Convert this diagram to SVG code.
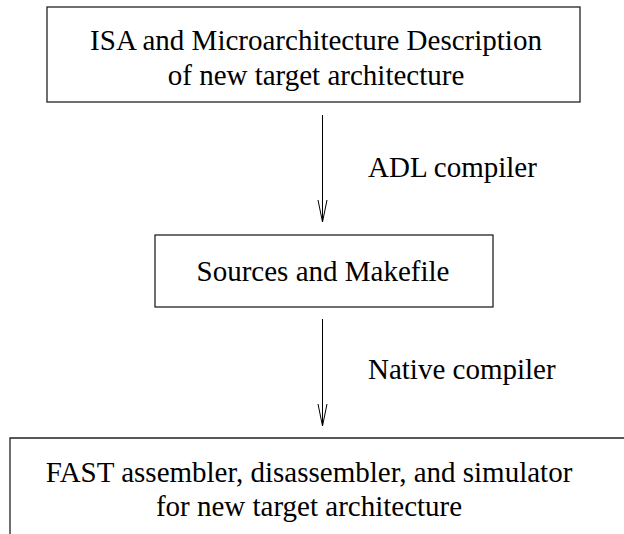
<svg xmlns="http://www.w3.org/2000/svg" width="624" height="534" viewBox="0 0 624 534">
<defs>
<style>
.box{fill:none;stroke:#222;stroke-width:1.3}
.t{font-family:"Liberation Serif","Times New Roman",serif;font-size:29px;fill:#000}
.c{text-anchor:middle}
.ln{stroke:#000;stroke-width:1;fill:none}
</style>
</defs>
<g id="node-isa">
<rect class="box" x="47" y="7" width="533" height="95"/>
<text class="t c" x="316" y="50">ISA and Microarchitecture Description</text>
<text class="t c" x="316" y="85">of new target architecture</text>
</g>
<g id="node-sources">
<rect class="box" x="155" y="235" width="338" height="72"/>
<text class="t c" x="323" y="281">Sources and Makefile</text>
</g>
<g id="node-fast">
<path class="box" d="M10,534 L10,438 L624,438"/>
<text class="t c" x="309" y="482">FAST assembler, disassembler, and simulator</text>
<text class="t c" x="309" y="516">for new target architecture</text>
</g>
<g id="connectors">
<line class="ln" x1="322.5" y1="115" x2="322.5" y2="222"/>
<path class="ln" d="M318,200 L322.5,222 L327,200"/>
<text class="t" x="368" y="177">ADL compiler</text>
<line class="ln" x1="322.5" y1="319" x2="322.5" y2="426"/>
<path class="ln" d="M318,404 L322.5,426 L327,404"/>
<text class="t" x="368" y="379">Native compiler</text>
</g>
</svg>
